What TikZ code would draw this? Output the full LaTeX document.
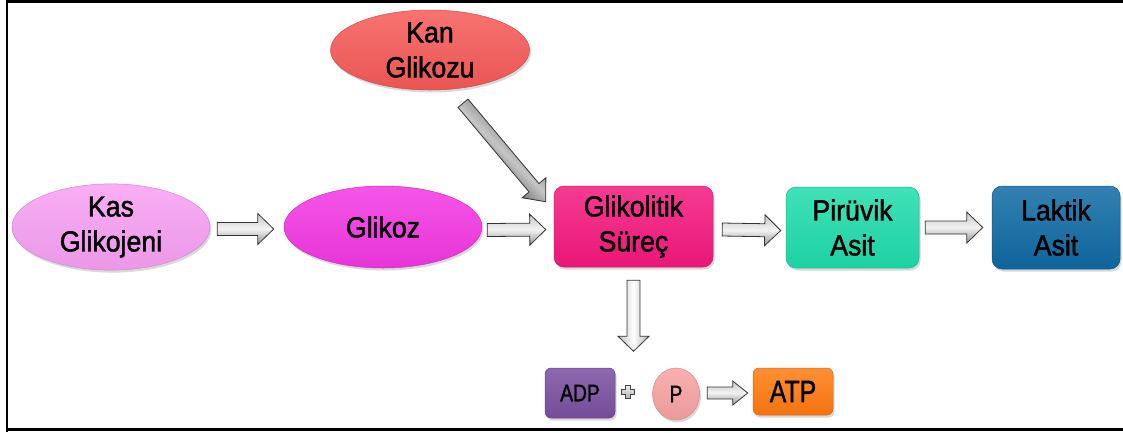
\documentclass[tikz,border=0pt]{standalone}
\usepackage{fontspec}
\setmainfont[FakeStretch=0.92,FakeBold=1.5]{Liberation Sans}
\newfontfamily\narrowfont[FakeStretch=0.8,FakeBold=1.2]{Liberation Sans}
\usetikzlibrary{shapes.geometric,shadows,calc}
\definecolor{kasc}{HTML}{F7A0F3}
\definecolor{glzc}{HTML}{F337E3}
\definecolor{kanc}{HTML}{F55A58}
\definecolor{glic}{HTML}{F5187E}
\definecolor{pirc}{HTML}{1FDCAB}
\definecolor{lakc}{HTML}{0F6AA3}
\definecolor{adpc}{HTML}{7A4FA0}
\definecolor{pc}{HTML}{F8A2A2}
\definecolor{atpc}{HTML}{FF7A10}
\tikzset{
  base/.style={inner sep=0pt, align=center, text=black,
    font=\fontsize{29}{35}\selectfont,
    drop shadow={shadow xshift=1.5pt, shadow yshift=-2.5pt, opacity=0.3}},
  ell/.style={base, ellipse},
  box/.style={base, rectangle, rounded corners=10pt},
  col/.style={top color=#1!85!white, bottom color=#1!95!black, draw=#1!85!black, line width=0.5pt},
  blkbase/.style n args={3}{draw=black!80, line width=0.8pt, to path={
    let \p1=(\tikztostart), \p2=(\tikztotarget),
        \n1={atan2(\y2-\y1,\x2-\x1)}, \n2={veclen(\x2-\x1,\y2-\y1)} in
    ($(\p1)+(\n1+90:#1)$)
    -- ($(\p1)+(\n1:\n2-#3)+(\n1+90:#1)$)
    -- ($(\p1)+(\n1:\n2-#3)+(\n1+90:#2)$)
    -- (\p2)
    -- ($(\p1)+(\n1:\n2-#3)+(\n1-90:#2)$)
    -- ($(\p1)+(\n1:\n2-#3)+(\n1-90:#1)$)
    -- ($(\p1)+(\n1-90:#1)$) -- cycle}},
  hblk/.style={blkbase={6.5pt}{15.5pt}{16pt}, top color=gray!45, bottom color=gray!85, middle color=white!90!gray},
  sblk/.style={blkbase={6pt}{12pt}{15pt}, top color=gray!45, bottom color=gray!85, middle color=white!90!gray},
  vblk/.style={blkbase={6.5pt}{15.5pt}{15pt}, left color=gray!50, right color=gray!60, middle color=white},
  dblk/.style={blkbase={6.5pt}{15.5pt}{18pt}, top color=black!75, bottom color=black!95, middle color=gray!45, shading angle=-45},
  plussym/.style={draw=gray!55!black, line width=0.5pt, top color=gray!15, bottom color=gray!60},
  frame/.style={line width=2.5pt, black}
}
\begin{document}
\begin{tikzpicture}[x=1pt,y=-1pt]
\useasboundingbox (0,0) rectangle (1123,432);
\draw[frame] (7,432) -- (7,1.3) -- (1123,1.3);
\draw[frame] (5.8,429.5) -- (1123,429.5);

\node[ell, col=kasc, minimum width=198pt, minimum height=82pt] (kas) at (111,227) {Kas\\Glikojeni};
\node[ell, col=glzc, minimum width=198pt, minimum height=82pt] (glikoz) at (383,227) {Glikoz};
\node[ell, col=kanc, minimum width=199pt, minimum height=80pt] (kan) at (430,50) {Kan\\Glikozu};
\node[box, col=glic, minimum width=159pt, minimum height=81pt] (gli) at (633.5,226.5) {Glikolitik\\Süreç};
\node[box, col=pirc, minimum width=133pt, minimum height=81pt] (pir) at (852.5,227.5) {Pirüvik\\Asit};
\node[box, col=lakc, minimum width=128pt, minimum height=83pt] (lak) at (1056,227.5) {Laktik\\Asit};
\node[box, col=adpc, rounded corners=6pt, minimum width=70pt, minimum height=50pt, font=\narrowfont\fontsize{24}{26}\selectfont] (adp) at (580,393) {ADP};
\node[ell, col=pc, minimum width=47pt, minimum height=52pt, font=\narrowfont\fontsize{24}{26}\selectfont] (p) at (676,394) {P};
\node[box, col=atpc, rounded corners=6pt, minimum width=80pt, minimum height=47pt, font=\narrowfont\fontsize{31}{33}\selectfont] (atp) at (793,391.5) {ATP};

\draw[plussym] (625.5,385.5) -- (630.5,385.5) -- (630.5,389.5) -- (634.5,389.5)
  -- (634.5,394.5) -- (630.5,394.5) -- (630.5,398.5) -- (625.5,398.5)
  -- (625.5,394.5) -- (621.5,394.5) -- (621.5,389.5) -- (625.5,389.5) -- cycle;

\draw[hblk] ($(kas.east)+(7,2)$) to ($(glikoz.west)+(-10,2)$);
\draw[hblk] ($(glikoz.east)+(5,3)$) to ($(gli.west)+(-8,3)$);
\draw[hblk] ($(gli.east)+(9,3)$) to ($(pir.west)+(-5,3)$);
\draw[hblk] ($(pir.east)+(6,0)$) to ($(lak.west)+(-9,0)$);
\draw[dblk] ($(kan.south)+(33,13)$) to ($(gli.north west)+(-8,16)$);
\coordinate (prod) at ($(gli.south)+(0,84)$);
\draw[vblk] ($(gli.south)+(0,13)$) to (prod);
\draw[sblk] ($(p.east)+(7.5,-1)$) to ($(atp.west)+(-5,1.5)$);
\end{tikzpicture}
\end{document}
